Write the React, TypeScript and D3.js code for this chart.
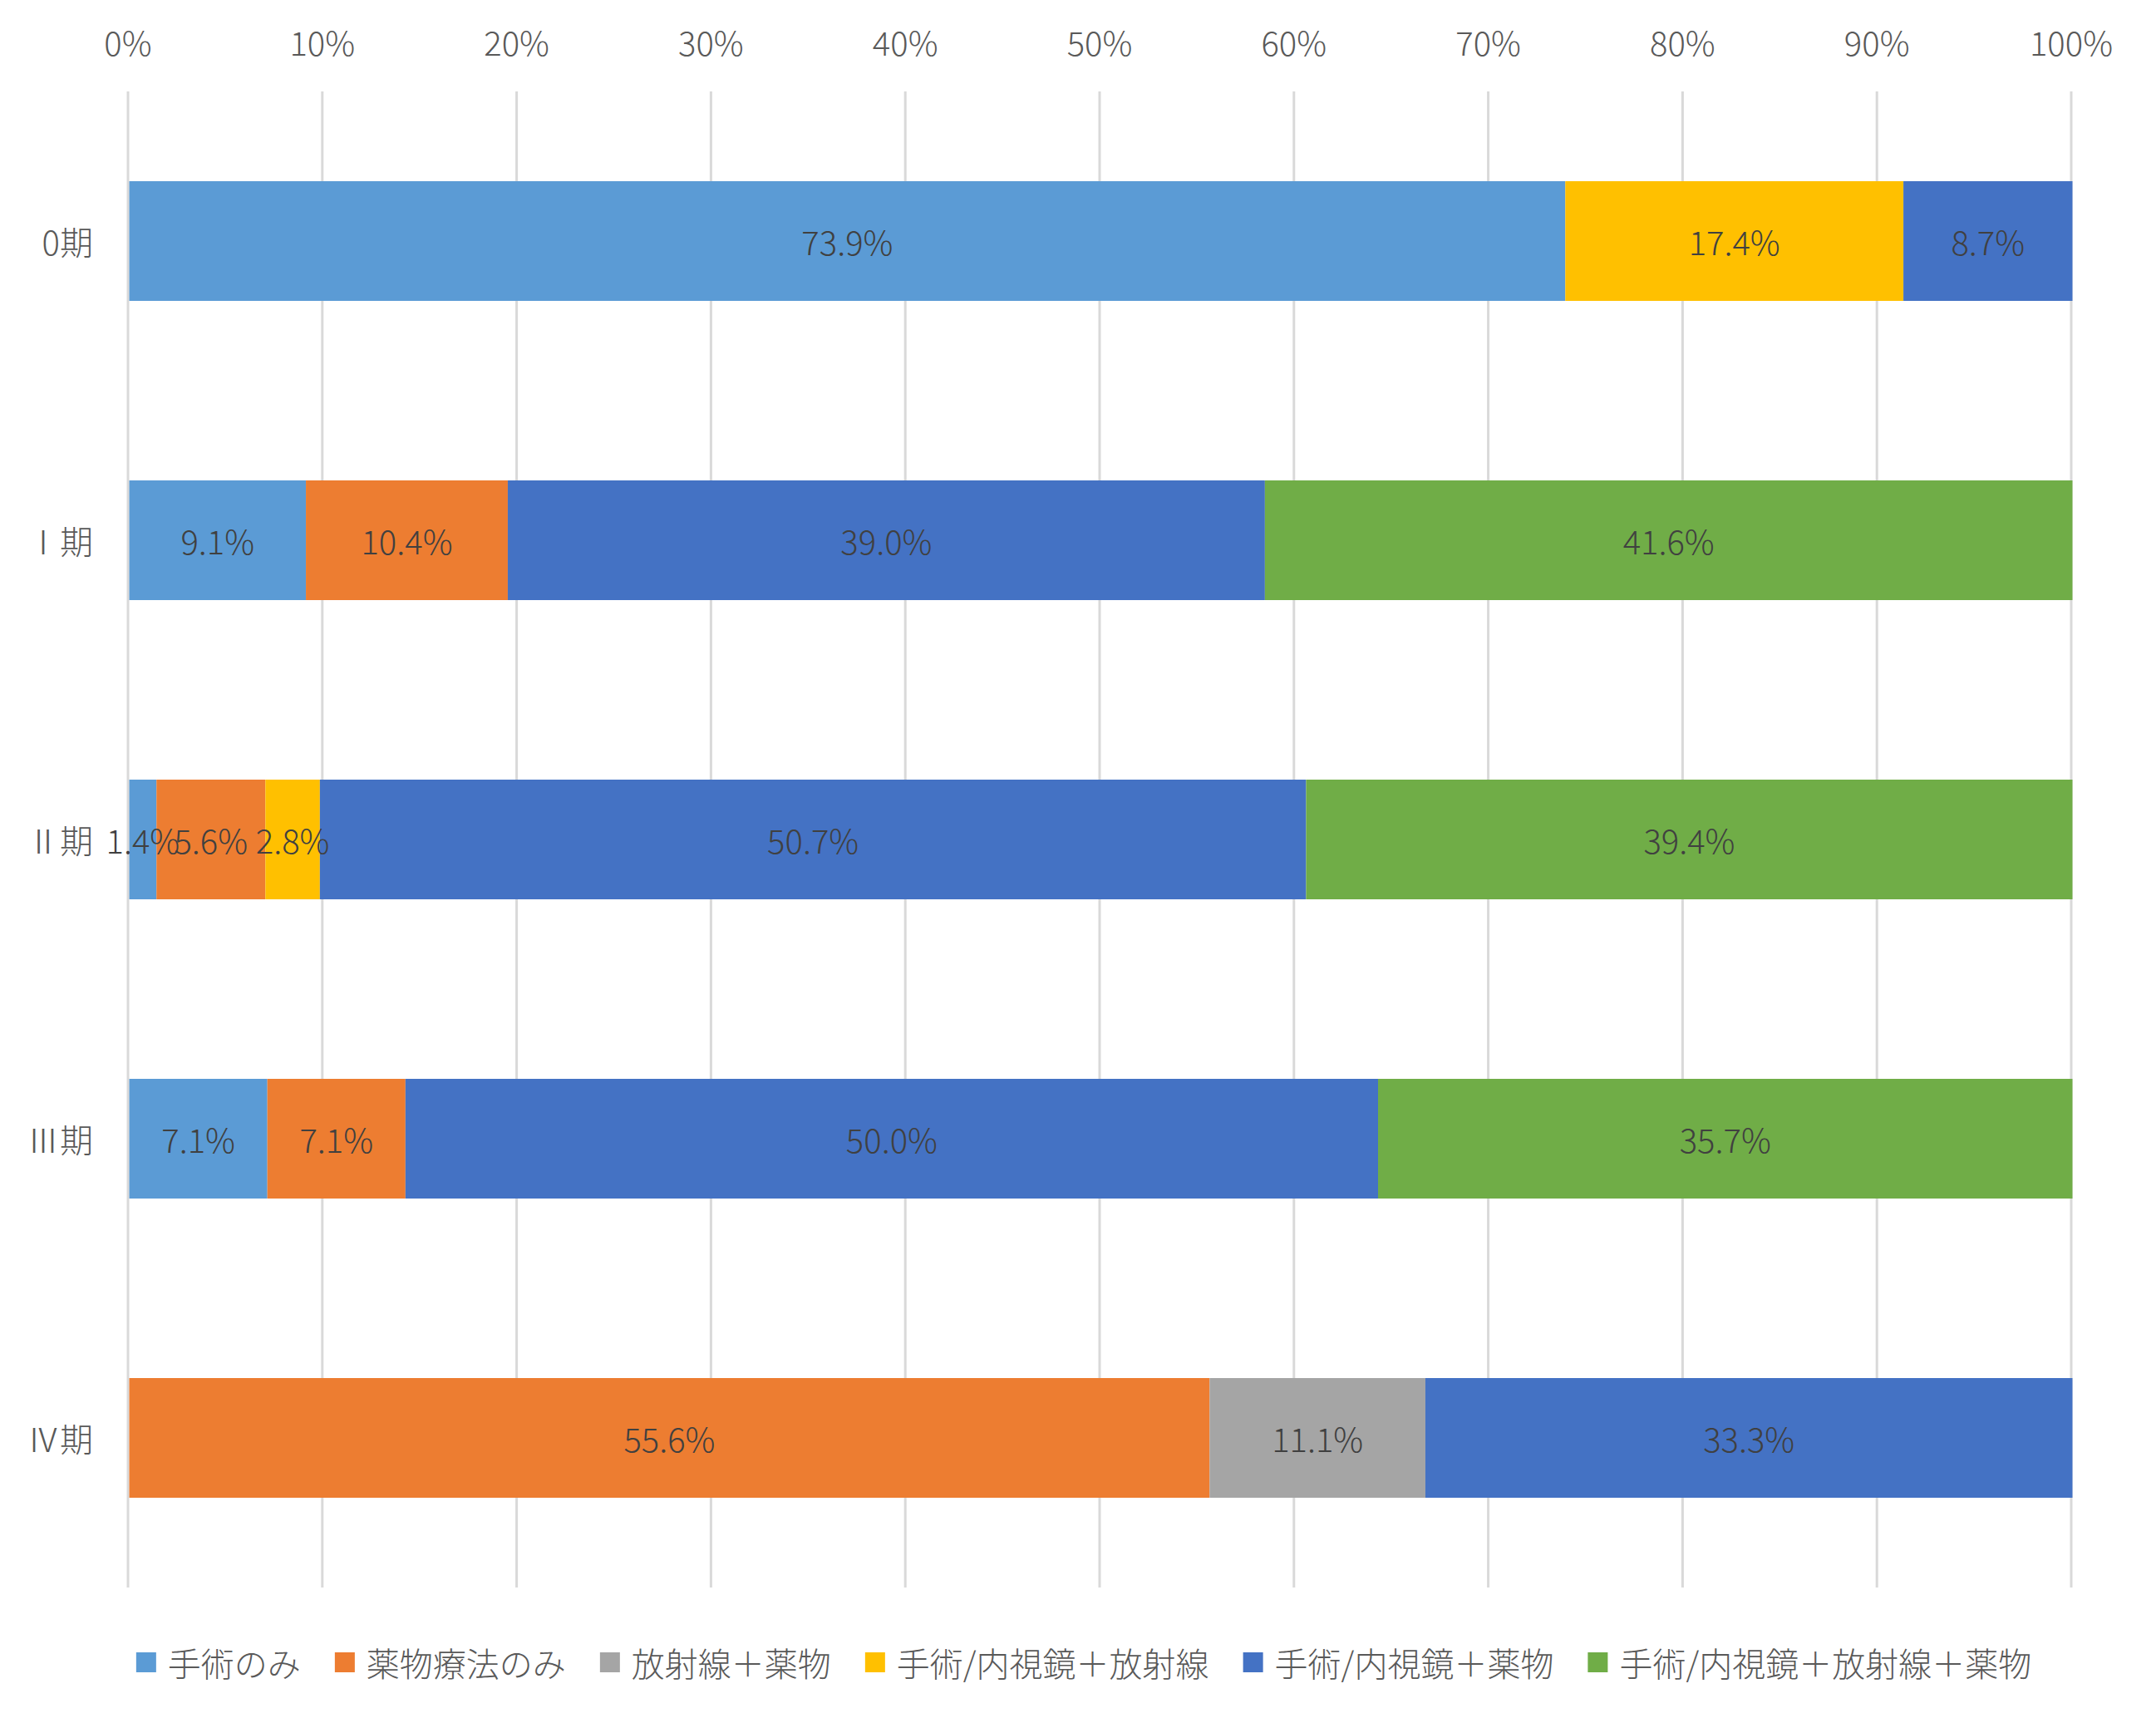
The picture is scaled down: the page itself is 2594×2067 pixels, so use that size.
import React, { useRef, useEffect } from 'react';
import * as d3 from 'd3';

const categories = ['0期', 'Ⅰ期', 'Ⅱ期', 'Ⅲ期', 'Ⅳ期'];
const seriesNames = [
    '手術のみ',
    '薬物療法のみ',
    '放射線＋薬物',
    '手術/内視鏡＋放射線',
    '手術/内視鏡＋薬物',
    '手術/内視鏡＋放射線＋薬物',
];
const seriesColors = ['#5B9BD5', '#ED7D31', '#A5A5A5', '#FFC000', '#4472C4', '#70AD47'];

// percent per stage, one array per series (order of categories)
const surgeryOnly = [73.9, 9.1, 1.4, 7.1, 0];
const drugOnly = [0, 10.4, 5.6, 7.1, 55.6];
const radiationDrug = [0, 0, 0, 0, 11.1];
const surgeryRadiation = [17.4, 0, 2.8, 0, 0];
const surgeryDrug = [8.7, 39.0, 50.7, 50.0, 33.3];
const surgeryRadiationDrug = [0, 41.6, 39.4, 35.7, 0];

const seriesValues = [surgeryOnly, drugOnly, radiationDrug, surgeryRadiation, surgeryDrug, surgeryRadiationDrug];

const FONT = "'Noto Sans CJK JP', 'Noto Sans', sans-serif";

export default function App() {
    const svgRef = useRef<SVGSVGElement>(null);
    const width = 2594;
    const height = 2067;

    useEffect(() => {
        if (!svgRef.current) return;
        const svg = d3.select(svgRef.current);
        svg.selectAll('*').remove();

        const plot = { left: 154, right: 2492, top: 110, bottom: 1910 };

        const rows = categories.map((c, i) => {
            const row: any = { cat: c };
            seriesNames.forEach((s, j) => { row[s] = seriesValues[j][i]; });
            return row;
        });

        // Excel-style 100% stacking
        const stacked = d3.stack<any>()
            .keys(seriesNames)
            .offset(d3.stackOffsetExpand)(rows);

        const x = d3.scaleLinear().domain([0, 1]).range([plot.left, plot.right]);
        const y = d3.scaleBand<string>()
            .domain(categories)
            .range([plot.top, plot.bottom])
            .paddingInner(0.6)
            .paddingOuter(0.3);

        svg.append('rect').attr('width', width).attr('height', height).attr('fill', '#fff');

        // vertical gridlines
        svg.append('g')
            .selectAll('line')
            .data(x.ticks(10))
            .join('line')
            .attr('x1', d => x(d))
            .attr('x2', d => x(d))
            .attr('y1', plot.top)
            .attr('y2', plot.bottom)
            .attr('stroke', '#D9D9D9')
            .attr('stroke-width', 3);

        // top tick labels
        svg.append('g')
            .selectAll('text')
            .data(x.ticks(10))
            .join('text')
            .attr('x', d => x(d))
            .attr('y', 50)
            .attr('text-anchor', 'middle')
            .attr('dominant-baseline', 'central')
            .attr('font-family', FONT)
            .attr('font-weight', 300)
            .attr('font-size', 40)
            .attr('fill', '#595959')
            .text(d => d3.format('.0%')(d));

        // bars
        const layers = svg.append('g')
            .selectAll('g')
            .data(stacked)
            .join('g')
            .attr('fill', (_, i) => seriesColors[i]);

        layers.selectAll('rect')
            .data(d => d.map(p => ({ p, cat: p.data.cat })))
            .join('rect')
            .attr('x', d => x(d.p[0]) + 1.5)
            .attr('width', d => Math.max(0, x(d.p[1]) - x(d.p[0])))
            .attr('y', d => y(d.cat)!)
            .attr('height', y.bandwidth());

        // data labels
        const labels = svg.append('g');
        stacked.forEach((layer, j) => {
            layer.forEach((p, i) => {
                const v = seriesValues[j][i];
                if (!v) return;
                labels.append('text')
                    .attr('x', (x(p[0]) + x(p[1])) / 2 + 1.5)
                    .attr('y', y(categories[i])! + y.bandwidth() / 2)
                    .attr('text-anchor', 'middle')
                    .attr('dominant-baseline', 'central')
                    .attr('font-family', FONT)
                    .attr('font-weight', 300)
                    .attr('font-size', 40)
                    .attr('fill', '#404040')
                    .text(d3.format('.1f')(v) + '%');
            });
        });

        // category labels
        svg.append('g')
            .selectAll('text')
            .data(categories)
            .join('text')
            .attr('x', 112)
            .attr('y', d => y(d)! + y.bandwidth() / 2)
            .attr('text-anchor', 'end')
            .attr('dominant-baseline', 'central')
            .attr('font-family', FONT)
            .attr('font-weight', 300)
            .attr('font-size', 40)
            .attr('fill', '#595959')
            .text(d => d);

        // legend
        const legend = svg.append('g');
        const items = seriesNames.map((name, i) => {
            const g = legend.append('g');
            g.append('rect')
                .attr('width', 24)
                .attr('height', 24)
                .attr('y', -12)
                .attr('fill', seriesColors[i]);
            const t = g.append('text')
                .attr('x', 38)
                .attr('dominant-baseline', 'central')
                .attr('font-family', FONT)
                .attr('font-weight', 300)
                .attr('font-size', 40)
                .attr('fill', '#595959')
                .text(name);
            const w = (t.node() as SVGTextElement).getComputedTextLength();
            return { g, w: 38 + w };
        });
        const gap = 41;
        const total = d3.sum(items, d => d.w) + gap * (items.length - 1);
        let cx = 1304 - total / 2;
        items.forEach(it => {
            it.g.attr('transform', `translate(${cx},2000)`);
            cx += it.w + gap;
        });
    }, []);

    return (
        <svg
            ref={svgRef}
            width={width}
            height={height}
            style={{ position: 'absolute', left: 0, top: 0, display: 'block' }}
        />
    );
}
